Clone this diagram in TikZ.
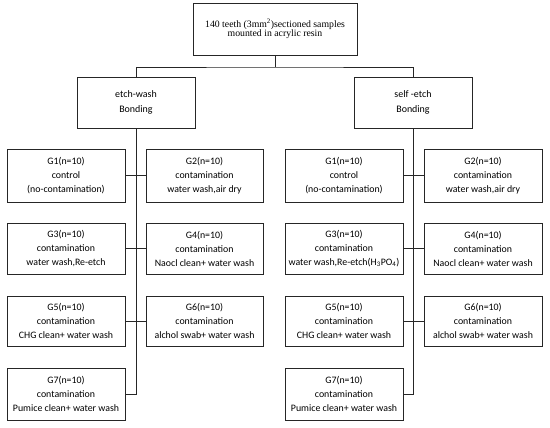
\documentclass[tikz,border=0pt]{standalone}
\usepackage{fontspec}
\setmainfont{Carlito}
\newfontfamily\topfont{Liberation Serif}
\begin{document}
\begin{tikzpicture}[x=1bp,y=-1bp,
  box/.style={draw=black!85,line width=0.6bp,align=center,inner sep=0pt},
  gbox/.style={box,minimum width=118bp,font=\fontsize{9.9}{14}\selectfont},
  bbox/.style={box,minimum width=118bp,minimum height=51bp,font=\fontsize{10}{15}\selectfont},
  conn/.style={draw=black!85,line width=0.6bp}]
\useasboundingbox (0,0) rectangle (550,427);
\node[box,minimum width=164bp,minimum height=52bp,font=\topfont\fontsize{9.8}{9.6}\selectfont] (top) at (275,29)
  {140 teeth (3mm\textsuperscript{2})sectioned samples\\mounted in acrylic resin};
\coordinate (split) at (275,67);
\node[bbox] (lb) at (136,102.5) {etch-wash\\Bonding};
\node[bbox] (rb) at (413,102.5) {self -etch\\Bonding};
% left column
\node[gbox,minimum height=53bp] (l1) at (66,175.5) {G1(n=10)\\control\\(no-contamination)};
\node[gbox,minimum height=53bp,minimum width=117bp] (l2) at (204.5,175.5) {G2(n=10)\\contamination\\water wash,air dry};
\node[gbox,minimum height=51bp] (l3) at (66,248.5) {G3(n=10)\\contamination\\water wash,Re-etch};
\node[gbox,minimum height=51bp,minimum width=117bp] (l4) at (204.5,248.5) {G4(n=10)\\contamination\\Naocl clean+ water wash};
\node[gbox,minimum height=50bp] (l5) at (66,321) {G5(n=10)\\contamination\\CHG clean+ water wash};
\node[gbox,minimum height=50bp,minimum width=117bp] (l6) at (204.5,321) {G6(n=10)\\contamination\\alchol swab+ water wash};
\node[gbox,minimum height=52bp] (l7) at (66,394) {G7(n=10)\\contamination\\Pumice clean+ water wash};
% right column
\node[gbox,minimum height=53bp] (r1) at (344,175.5) {G1(n=10)\\control\\(no-contamination)};
\node[gbox,minimum height=53bp] (r2) at (483,175.5) {G2(n=10)\\contamination\\water wash,air dry};
\node[gbox,minimum height=51bp] (r3) at (344,248.5) {G3(n=10)\\contamination\\water wash,Re-etch(H\textsubscript{3}PO\textsubscript{4})};
\node[gbox,minimum height=51bp] (r4) at (483,248.5) {G4(n=10)\\contamination\\Naocl clean+ water wash};
\node[gbox,minimum height=50bp] (r5) at (344,321) {G5(n=10)\\contamination\\CHG clean+ water wash};
\node[gbox,minimum height=50bp] (r6) at (483,321) {G6(n=10)\\contamination\\alchol swab+ water wash};
\node[gbox,minimum height=52bp] (r7) at (344,394) {G7(n=10)\\contamination\\Pumice clean+ water wash};
% connectors
\draw[conn] (top.south) -- (split);
\draw[conn] (lb.north) |- (split) -| (rb.north);
\draw[conn] (lb.south) -- (lb.south |- l7.east) -- (l7.east);
\draw[conn] (rb.south) -- (rb.south |- r7.east) -- (r7.east);
\draw[conn] (l1.east) -- (l2.west);
\draw[conn] (l3.east) -- (l4.west);
\draw[conn] (l5.east) -- (l6.west);
\draw[conn] (r1.east) -- (r2.west);
\draw[conn] (r3.east) -- (r4.west);
\draw[conn] (r5.east) -- (r6.west);
\end{tikzpicture}
\end{document}
